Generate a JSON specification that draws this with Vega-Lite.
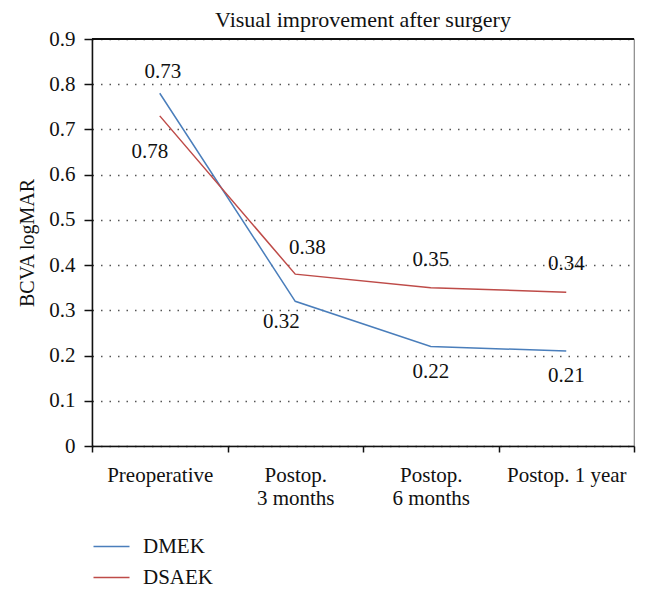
{
  "$schema": "https://vega.github.io/schema/vega-lite/v6.json",
  "width": 542,
  "height": 407,
  "autosize": {"type": "none"},
  "padding": {"left": 92, "top": 39, "right": 15, "bottom": 148},
  "title": {"text": "Visual improvement after surgery", "fontSize": 22, "fontWeight": "normal", "font": "Liberation Serif", "color": "#111", "offset": -4, "anchor": "middle"},
  "data": {
    "values": [
      {"series": "DMEK", "time": "Preoperative", "value": 0.78, "label": "0.73"},
      {"series": "DMEK", "time": "Postop. 3 months", "value": 0.32, "label": "0.32"},
      {"series": "DMEK", "time": "Postop. 6 months", "value": 0.22, "label": "0.22"},
      {"series": "DMEK", "time": "Postop. 1 year", "value": 0.21, "label": "0.21"},
      {"series": "DSAEK", "time": "Preoperative", "value": 0.73, "label": "0.78"},
      {"series": "DSAEK", "time": "Postop. 3 months", "value": 0.38, "label": "0.38"},
      {"series": "DSAEK", "time": "Postop. 6 months", "value": 0.35, "label": "0.35"},
      {"series": "DSAEK", "time": "Postop. 1 year", "value": 0.34, "label": "0.34"}
    ]
  },
  "encoding": {
    "x": {
      "field": "time", "type": "nominal", "bandPosition": 0.5,
      "sort": ["Preoperative", "Postop. 3 months", "Postop. 6 months", "Postop. 1 year"],
      "scale": {"type": "band", "paddingInner": 0, "paddingOuter": 0},
      "axis": {
        "title": null, "labelAngle": 0, "grid": false, "tickBand": "extent",
        "domainColor": "#111", "domainWidth": 1.5, "tickColor": "#111", "tickWidth": 1.5, "tickSize": 6,
        "labelPadding": 12, "labelLineHeight": 23, "labelFontSize": 21, "labelColor": "#111", "labelFont": "Liberation Serif",
        "labelExpr": "datum.value == 'Postop. 3 months' || datum.value == 'Postop. 6 months' ? ['Postop.', slice(datum.value, 8)] : datum.value"
      }
    },
    "y": {
      "field": "value", "type": "quantitative",
      "scale": {"domain": [0, 0.9], "nice": false},
      "axis": {
        "title": "BCVA logMAR", "values": [0, 0.1, 0.2, 0.3, 0.4, 0.5, 0.6, 0.7, 0.8, 0.9], "format": ".1~f",
        "domainColor": "#111", "domainWidth": 1.5, "tickColor": "#111", "tickWidth": 1.5, "tickSize": 8,
        "labelPadding": 9, "labelFontSize": 21, "labelColor": "#111", "labelFont": "Liberation Serif",
        "grid": true, "gridColor": "#555", "gridDash": [1.5, 7], "gridWidth": 1.3,
        "titleFontSize": 20, "titleFontWeight": "normal", "titleColor": "#111", "titleFont": "Liberation Serif",
        "titleX": -65, "titleY": 203.5, "titleAlign": "center", "titleBaseline": "middle", "titleAngle": -90
      }
    }
  },
  "layer": [
    {
      "mark": {"type": "rule", "color": "#111", "strokeWidth": 1.5},
      "encoding": {"x": null, "y": {"datum": 0.9}}
    },
    {
      "mark": {"type": "line", "strokeWidth": 1.5},
      "encoding": {
        "color": {
          "field": "series", "type": "nominal",
          "scale": {"domain": ["DMEK", "DSAEK"], "range": ["#4A7EBB", "#BE4B48"]},
          "legend": {
            "orient": "none", "legendX": 9, "legendY": 497, "direction": "vertical", "title": null,
            "symbolType": "M-2,0H2", "symbolSize": 324, "symbolStrokeWidth": 1.5,
            "labelFontSize": 21, "labelFont": "Liberation Serif", "labelColor": "#111", "labelOffset": 21,
            "rowPadding": 9, "padding": 0
          }
        }
      }
    },
    {
      "transform": [{"filter": "datum.series == 'DMEK' && datum.time == 'Preoperative'"}],
      "mark": {"type": "text", "fontSize": 21, "font": "Liberation Serif", "color": "#111", "baseline": "middle", "dx": 3, "dy": -21},
      "encoding": {"text": {"field": "label"}}
    },
    {
      "transform": [{"filter": "datum.series == 'DSAEK' && datum.time == 'Preoperative'"}],
      "mark": {"type": "text", "fontSize": 21, "font": "Liberation Serif", "color": "#111", "baseline": "middle", "dx": -10, "dy": 36},
      "encoding": {"text": {"field": "label"}}
    },
    {
      "transform": [{"filter": "datum.series == 'DSAEK' && datum.time == 'Postop. 3 months'"}],
      "mark": {"type": "text", "fontSize": 21, "font": "Liberation Serif", "color": "#111", "baseline": "middle", "dx": 12, "dy": -26},
      "encoding": {"text": {"field": "label"}}
    },
    {
      "transform": [{"filter": "datum.series == 'DMEK' && datum.time == 'Postop. 3 months'"}],
      "mark": {"type": "text", "fontSize": 21, "font": "Liberation Serif", "color": "#111", "baseline": "middle", "dx": -14, "dy": 21},
      "encoding": {"text": {"field": "label"}}
    },
    {
      "transform": [{"filter": "datum.series == 'DSAEK' && (datum.time == 'Postop. 6 months' || datum.time == 'Postop. 1 year')"}],
      "mark": {"type": "text", "fontSize": 21, "font": "Liberation Serif", "color": "#111", "baseline": "middle", "dy": -28},
      "encoding": {"text": {"field": "label"}}
    },
    {
      "transform": [{"filter": "datum.series == 'DMEK' && (datum.time == 'Postop. 6 months' || datum.time == 'Postop. 1 year')"}],
      "mark": {"type": "text", "fontSize": 21, "font": "Liberation Serif", "color": "#111", "baseline": "middle", "dy": 25},
      "encoding": {"text": {"field": "label"}}
    }
  ],
  "config": {
    "view": {"stroke": "#888", "strokeWidth": 1.2},
    "font": "Liberation Serif",
    "background": "white"
  }
}
